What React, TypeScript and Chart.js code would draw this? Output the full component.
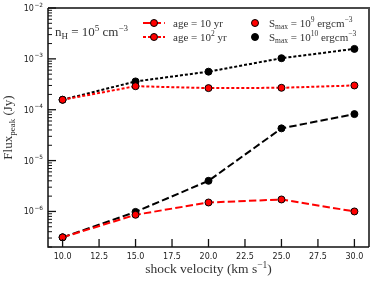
import React, { useEffect, useRef } from "react";
import { Chart, registerables } from "chart.js";

Chart.register(...registerables);

// ---- data ----
const velocities = [10, 15, 20, 25, 30];
const fluxAge10Smax9 = [3.1e-7, 8.6e-7, 1.5e-6, 1.72e-6, 1.0e-6];
const fluxAge10Smax10 = [3.1e-7, 9.8e-7, 4.0e-6, 4.3e-5, 8.2e-5];
const fluxAge100Smax9 = [1.57e-4, 2.9e-4, 2.66e-4, 2.7e-4, 3.0e-4];
const fluxAge100Smax10 = [1.57e-4, 3.6e-4, 5.6e-4, 1.03e-3, 1.57e-3];

const xTickValues = [10, 12.5, 15, 17.5, 20, 22.5, 25, 27.5, 30];
const yDecadeExponents = [-6, -5, -4, -3, -2];
const xMin = 9;
const xMax = 31;
const yMin = 2e-7;
const yMax = 1e-2;

const RED = "#ff0000";
const BLACK = "#000000";
const DASHED = [7.4, 3.2];
const DOTTED = [3, 2];

const SERIF = '"Liberation Serif", "DejaVu Serif", serif';
const SANS = '"DejaVu Sans", sans-serif';

type Seg = { t: string; size: number; dy?: number };

function drawSegs(ctx: CanvasRenderingContext2D, segs: Seg[], x: number, y: number, align: "left" | "center" | "right") {
  let total = 0;
  const widths: number[] = [];
  for (const s of segs) {
    ctx.font = `${s.size}px ${SERIF}`;
    const w = ctx.measureText(s.t).width;
    widths.push(w);
    total += w;
  }
  let cx = align === "left" ? x : align === "center" ? x - total / 2 : x - total;
  ctx.textAlign = "left";
  ctx.textBaseline = "alphabetic";
  segs.forEach((s, i) => {
    ctx.font = `${s.size}px ${SERIF}`;
    ctx.fillText(s.t, cx, y + (s.dy || 0));
    cx += widths[i];
  });
}

function marker(ctx: CanvasRenderingContext2D, x: number, y: number, fill: string) {
  ctx.beginPath();
  ctx.arc(x, y, 3.5, 0, Math.PI * 2);
  ctx.fillStyle = fill;
  ctx.fill();
  ctx.lineWidth = 1;
  ctx.strokeStyle = BLACK;
  ctx.setLineDash([]);
  ctx.stroke();
}

const decorPlugin = {
  id: "decor",
  afterDraw(chart: any) {
    const { ctx, chartArea: a, scales } = chart;
    const xs = scales.x;
    const ys = scales.y;
    ctx.save();
    ctx.setLineDash([]);

    // frame
    ctx.strokeStyle = "#4a4a4a";
    ctx.lineWidth = 2;
    ctx.beginPath();
    ctx.moveTo(a.left, a.top);
    ctx.lineTo(a.right, a.top);
    ctx.lineTo(a.right, a.bottom);
    ctx.stroke();
    ctx.strokeStyle = "#111";
    ctx.lineWidth = 1.5;
    ctx.beginPath();
    ctx.moveTo(a.left, a.top);
    ctx.lineTo(a.left, a.bottom);
    ctx.lineTo(a.right, a.bottom);
    ctx.stroke();

    // x ticks (inward) + labels
    ctx.lineWidth = 1.3;
    ctx.fillStyle = "#222";
    ctx.font = `8px ${SANS}`;
    ctx.textAlign = "center";
    ctx.textBaseline = "alphabetic";
    for (const v of xTickValues) {
      const px = xs.getPixelForValue(v);
      ctx.beginPath();
      ctx.moveTo(px, a.bottom);
      ctx.lineTo(px, a.bottom - 8);
      ctx.stroke();
      ctx.fillText(v.toFixed(1), px, a.bottom + 12);
    }

    // y ticks (major + minor, inward)
    for (let e = -7; e <= -2; e++) {
      for (let m = 1; m <= 9; m++) {
        const v = m * Math.pow(10, e);
        if (v < yMin * 0.999 || v > yMax * 1.001) continue;
        const py = ys.getPixelForValue(v);
        ctx.lineWidth = m === 1 ? 1.3 : 1;
        ctx.beginPath();
        ctx.moveTo(a.left, py);
        ctx.lineTo(a.left + (m === 1 ? 8 : 4), py);
        ctx.stroke();
      }
    }
    // y labels
    for (const e of yDecadeExponents) {
      const py = ys.getPixelForValue(Math.pow(10, e));
      ctx.font = `5.8px ${SANS}`;
      const sup = "\u2212" + Math.abs(e);
      const sw = ctx.measureText(sup).width;
      const right = a.left - 5;
      ctx.textAlign = "left";
      ctx.fillText(sup, right - sw, py - 1.5);
      ctx.font = `8px ${SANS}`;
      ctx.textAlign = "right";
      ctx.fillText("10", right - sw - 0.5, py + 3);
    }

    ctx.fillStyle = "#333";
    // x title
    drawSegs(
      ctx,
      [
        { t: "shock velocity (km s", size: 13.5 },
        { t: "\u22121", size: 9.5, dy: -5 },
        { t: ")", size: 13.5 },
      ],
      (a.left + a.right) / 2,
      273,
      "center"
    );

    // y title
    ctx.save();
    ctx.translate(12, (a.top + a.bottom) / 2);
    ctx.rotate(-Math.PI / 2);
    drawSegs(
      ctx,
      [
        { t: "Flux", size: 13 },
        { t: "peak", size: 9, dy: 2.5 },
        { t: " (Jy)", size: 13 },
      ],
      0,
      0,
      "center"
    );
    ctx.restore();

    // annotation
    drawSegs(
      ctx,
      [
        { t: "n", size: 13 },
        { t: "H", size: 9, dy: 2.5 },
        { t: " = 10", size: 13 },
        { t: "5", size: 9, dy: -5 },
        { t: " cm", size: 13 },
        { t: "\u22123", size: 9, dy: -5 },
      ],
      a.left + 7,
      36,
      "left"
    );

    // legend
    const rows = [a.top + 15, a.top + 29];
    const lx0 = 143;
    const lx1 = 165;
    const styles = [DASHED, DOTTED];
    rows.forEach((ry, i) => {
      ctx.setLineDash(styles[i]);
      ctx.strokeStyle = RED;
      ctx.lineWidth = 2;
      ctx.beginPath();
      ctx.moveTo(lx0, ry);
      ctx.lineTo(lx1, ry);
      ctx.stroke();
      marker(ctx, (lx0 + lx1) / 2, ry, RED);
    });
    marker(ctx, 255, rows[0], RED);
    marker(ctx, 255, rows[1], BLACK);
    ctx.fillStyle = "#333";
    drawSegs(ctx, [{ t: "age = 10 yr", size: 11 }], 173, rows[0] + 3.5, "left");
    drawSegs(
      ctx,
      [
        { t: "age = 10", size: 11 },
        { t: "2", size: 7.5, dy: -4.5 },
        { t: " yr", size: 11 },
      ],
      173,
      rows[1] + 3.5,
      "left"
    );
    drawSegs(
      ctx,
      [
        { t: "S", size: 11 },
        { t: "max", size: 7.5, dy: 2 },
        { t: " = 10", size: 11 },
        { t: "9", size: 7.5, dy: -4.5 },
        { t: " ergcm", size: 11 },
        { t: "\u22123", size: 7.5, dy: -4.5 },
      ],
      269,
      rows[0] + 3.5,
      "left"
    );
    drawSegs(
      ctx,
      [
        { t: "S", size: 11 },
        { t: "max", size: 7.5, dy: 2 },
        { t: " = 10", size: 11 },
        { t: "10", size: 7.5, dy: -4.5 },
        { t: " ergcm", size: 11 },
        { t: "\u22123", size: 7.5, dy: -4.5 },
      ],
      269,
      rows[1] + 3.5,
      "left"
    );

    ctx.restore();
  },
};

function pts(ys: number[]) {
  return velocities.map((v, i) => ({ x: v, y: ys[i] }));
}

function ds(label: string, data: number[], color: string, dash: number[]) {
  return {
    label,
    data: pts(data),
    borderColor: color,
    backgroundColor: color,
    borderWidth: 2,
    borderDash: dash,
    pointRadius: 3.5,
    pointBackgroundColor: color,
    pointBorderColor: BLACK,
    pointBorderWidth: 1,
    fill: false,
    tension: 0,
  };
}

export default function App() {
  const ref = useRef<HTMLCanvasElement | null>(null);
  useEffect(() => {
    if (!ref.current) return;
    const chart = new Chart(ref.current, {
      type: "line",
      data: {
        datasets: [
          ds("age = 10^2 yr, Smax = 10^9", fluxAge100Smax9, RED, DOTTED),
          ds("age = 10 yr, Smax = 10^9", fluxAge10Smax9, RED, DASHED),
          ds("age = 10 yr, Smax = 10^10", fluxAge10Smax10, BLACK, DASHED),
          ds("age = 10^2 yr, Smax = 10^10", fluxAge100Smax10, BLACK, DOTTED),
        ] as any,
      },
      options: {
        animation: false,
        responsive: false,
        maintainAspectRatio: false,
        layout: { padding: { left: 48, right: 5, top: 8, bottom: 37 } },
        plugins: { legend: { display: false }, tooltip: { enabled: false } },
        scales: {
          x: { type: "linear", min: xMin, max: xMax, display: false },
          y: { type: "logarithmic", min: yMin, max: yMax, display: false },
        },
      } as any,
      plugins: [decorPlugin],
    });
    return () => chart.destroy();
  }, []);
  return (
    <canvas
      ref={ref}
      width={374}
      height={284}
      style={{ position: "absolute", left: 0, top: 0, width: 374, height: 284, background: "#fff" }}
    />
  );
}
